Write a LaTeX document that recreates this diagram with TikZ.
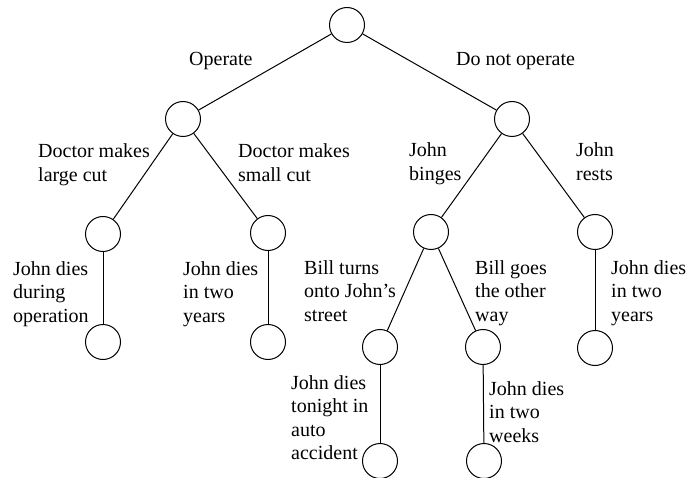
\documentclass[tikz,border=0pt]{standalone}
\usepackage{fontspec}
\setmainfont{Liberation Serif}

\begin{document}
\begin{tikzpicture}
[x=1pt, y=-1pt, every node/.style={inner sep=0pt},
 state/.style={circle, minimum size=35pt, line width=1pt, draw=black},
 edge/.style={line width=1pt, color=black},
 txt/.style={anchor=base west, align=left, font=\fontsize{20}{23.5}\selectfont}]
\useasboundingbox (0,0) rectangle (690,478);
\node (1) [state] at (347, 25) {};
\node (2) [state] at (183, 119) {};
\node (3) [state] at (512, 119) {};
\node (4) [state] at (103, 234) {};
\node (5) [state] at (268, 233) {};
\node (6) [state] at (431, 232) {};
\node (7) [state] at (595, 232) {};
\node (8) [state] at (103, 342) {};
\node (9) [state] at (268, 342) {};
\node (10) [state] at (380, 347) {};
\node (11) [state] at (483, 347) {};
\node (12) [state] at (595, 348) {};
\node (13) [state] at (380, 461) {};
\node (14) [state] at (484, 461) {};
\draw [edge] (1) to (2);
\draw [edge] (1) to (3);
\draw [edge] (2) to (4);
\draw [edge] (2) to (5);
\draw [edge] (3) to (6);
\draw [edge] (3) to (7);
\draw [edge] (4) to (8);
\draw [edge] (5) to (9);
\draw [edge] (6) to (10);
\draw [edge] (6) to (11);
\draw [edge] (7) to (12);
\draw [edge] (10) to (13);
\draw [edge] (11) to (14);
% base anchor sits on the last line
\node (l1) [txt] at (189, 66) {Operate};
\node (l2) [txt] at (456, 66) {Do not operate};
\node (l3) [txt] at (38, 181.5) {Doctor makes\\large cut};
\node (l4) [txt] at (238, 181.5) {Doctor makes\\small cut};
\node (l5) [txt] at (409, 180.5) {John\\binges};
\node (l6) [txt] at (576, 180.5) {John\\rests};
\node (l7) [txt] at (13, 322) {John dies\\during\\operation};
\node (l8) [txt] at (183, 322) {John dies\\in two\\years};
\node (l9) [txt] at (304, 321) {Bill turns\\onto John’s\\street};
\node (l10) [txt] at (475, 321) {Bill goes\\the other\\way};
\node (l11) [txt] at (611, 321) {John dies\\in two\\years};
\node (l12) [txt] at (291, 459.5) {John dies\\tonight in\\auto\\accident};
\node (l13) [txt] at (489, 442) {John dies\\in two\\weeks};
\end{tikzpicture}
\end{document}
